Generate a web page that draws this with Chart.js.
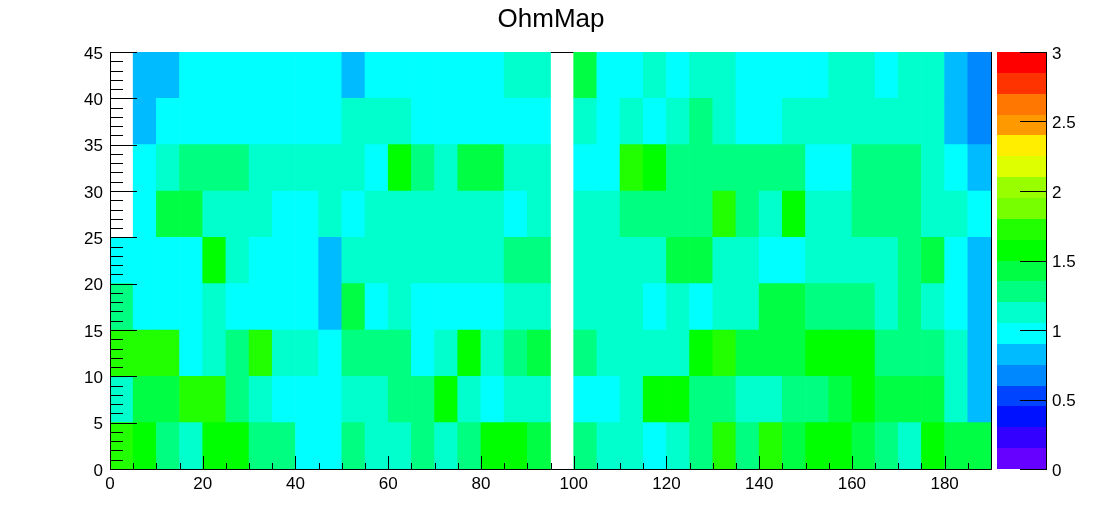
<!DOCTYPE html>
<html>
<head>
<meta charset="utf-8">
<title>OhmMap</title>
<script src="https://cdn.jsdelivr.net/npm/chart.js@4"></script>
<style>
  html, body { margin: 0; padding: 0; background: #fff; overflow: hidden; }
  canvas { display: block; }
</style>
</head>
<body>
<canvas id="ohmMap" width="1102" height="522"></canvas>
<script>
// column starts, 5 wide each, 0 to 185
const columns = [0, 5, 10, 15, 20, 25, 30, 35, 40, 45, 50, 55, 60, 65, 70, 75, 80, 85, 90, 95,
  100, 105, 110, 115, 120, 125, 130, 135, 140, 145, 150, 155, 160, 165, 170, 175, 180, 185];
const rowHeight = 5;

// ohm values per row, y = 0-5 first (null = empty bin)
const row0 = [1.73, 1.58, 1.28, 1.13, 1.58, 1.58, 1.28, 1.28, 0.98, 0.98, 1.28, 1.13, 1.13, 1.28, 1.13, 1.28, 1.58, 1.58, 1.43, null,
  1.28, 1.13, 1.13, 0.98, 1.13, 1.28, 1.73, 1.28, 1.73, 1.43, 1.58, 1.58, 1.43, 1.28, 1.13, 1.58, 1.43, 1.43];
const row1 = [1.13, 1.43, 1.43, 1.73, 1.73, 1.28, 1.13, 0.98, 0.98, 0.98, 1.13, 1.13, 1.28, 1.28, 1.58, 1.13, 0.98, 1.13, 1.13, null,
  0.98, 0.98, 1.13, 1.58, 1.58, 1.28, 1.28, 1.13, 1.13, 1.28, 1.28, 1.43, 1.58, 1.43, 1.43, 1.43, 1.13, 0.83];
const row2 = [1.73, 1.73, 1.73, 0.98, 1.13, 1.28, 1.73, 1.13, 1.13, 0.98, 1.28, 1.28, 1.28, 0.98, 1.13, 1.58, 1.13, 1.28, 1.43, null,
  1.28, 1.13, 1.13, 1.13, 1.13, 1.58, 1.73, 1.43, 1.43, 1.43, 1.58, 1.58, 1.58, 1.28, 1.28, 1.28, 1.13, 0.83];
const row3 = [1.28, 0.98, 0.98, 0.98, 1.13, 0.98, 0.98, 0.98, 0.98, 0.83, 1.43, 0.98, 1.13, 0.98, 0.98, 0.98, 0.98, 1.13, 1.13, null,
  1.13, 1.13, 1.13, 0.98, 1.13, 0.98, 1.13, 1.13, 1.43, 1.43, 1.28, 1.28, 1.28, 1.13, 1.28, 1.13, 0.98, 0.83];
const row4 = [0.98, 0.98, 0.98, 0.98, 1.58, 1.13, 0.98, 0.98, 0.98, 0.83, 1.13, 1.13, 1.13, 1.13, 1.13, 1.13, 1.13, 1.28, 1.28, null,
  1.13, 1.13, 1.13, 1.13, 1.43, 1.43, 1.13, 1.13, 0.98, 0.98, 1.13, 1.13, 1.13, 1.13, 1.28, 1.43, 0.98, 0.83];
const row5 = [null, 0.98, 1.43, 1.43, 1.13, 1.13, 1.13, 0.98, 0.98, 1.13, 0.98, 1.13, 1.13, 1.13, 1.13, 1.13, 1.13, 0.98, 1.13, null,
  1.13, 1.13, 1.28, 1.28, 1.28, 1.28, 1.73, 1.28, 1.13, 1.58, 1.13, 1.13, 1.28, 1.28, 1.28, 1.13, 1.13, 0.98];
const row6 = [null, 0.98, 1.13, 1.28, 1.28, 1.28, 1.13, 1.13, 1.13, 1.13, 1.13, 0.98, 1.58, 1.28, 1.13, 1.43, 1.43, 1.13, 1.13, null,
  0.98, 0.98, 1.73, 1.58, 1.28, 1.28, 1.28, 1.28, 1.28, 1.28, 0.98, 0.98, 1.28, 1.28, 1.28, 1.13, 0.98, 0.83];
const row7 = [null, 0.83, 0.98, 0.98, 0.98, 0.98, 0.98, 0.98, 0.98, 0.98, 1.13, 1.13, 1.13, 0.98, 0.98, 0.98, 0.98, 0.98, 0.98, null,
  1.13, 0.98, 1.13, 0.98, 1.13, 1.28, 1.13, 0.98, 0.98, 1.13, 1.13, 1.13, 1.13, 1.13, 1.13, 1.13, 0.83, 0.68];
const row8 = [null, 0.83, 0.83, 0.98, 0.98, 0.98, 0.98, 0.98, 0.98, 0.98, 0.83, 0.98, 0.98, 0.98, 0.98, 0.98, 0.98, 1.13, 1.13, null,
  1.43, 0.98, 0.98, 1.13, 0.98, 1.13, 1.13, 0.98, 0.98, 0.98, 0.98, 1.13, 1.13, 0.98, 1.13, 1.13, 0.83, 0.68];
const rows = [row0, row1, row2, row3, row4, row5, row6, row7, row8];

// 20 contours from 0 to 3, bottom to top
const paletteStep = 0.15;
const paletteColors = ['#6600ff', '#3300ff', '#0011ff', '#0044ff', '#0088ff', '#00bbff', '#00ffff', '#00ffcc', '#00ff80', '#00ff44',
  '#00ff00', '#22ff00', '#77ff00', '#99ff00', '#ddff00', '#ffee00', '#ff9900', '#ff7700', '#ff3300', '#ff0000'];

const fontFamily = '"Liberation Sans", Arial, sans-serif';
const tickFont = { family: fontFamily, size: 17 };

function colorFor(v) {
  return v === null ? 'rgba(0,0,0,0)' : paletteColors[Math.floor(v / paletteStep)];
}

function hLine(ctx, x1, x2, y) {
  const py = Math.round(y) + 0.5;
  ctx.beginPath();
  ctx.moveTo(x1, py);
  ctx.lineTo(x2, py);
  ctx.stroke();
}

function vLine(ctx, x, y1, y2) {
  const px = Math.round(x) + 0.5;
  ctx.beginPath();
  ctx.moveTo(px, y1);
  ctx.lineTo(px, y2);
  ctx.stroke();
}

// fixed axis box, tick padding must not push the plot area in
function fixBox(width, height) {
  return s => {
    if (width) s.width = width;
    if (height) s.height = height;
    s.paddingTop = 0;
    s.paddingBottom = 0;
    s.paddingLeft = 0;
    s.paddingRight = 0;
  };
}

// ROOT style frame and inward ticks, plus the colour bar
const rootFrame = {
  id: 'rootFrame',
  beforeDatasetsDraw(chart) {
    const { ctx, chartArea: a } = chart;
    ctx.save();
    ctx.strokeStyle = '#000';
    ctx.lineWidth = 1;
    hLine(ctx, a.left, a.right + 1, a.top);
    vLine(ctx, a.right, a.top, a.bottom + 1);
    ctx.restore();
  },
  afterDatasetsDraw(chart) {
    const { ctx, chartArea: a, scales } = chart;
    ctx.save();
    ctx.strokeStyle = '#000';
    ctx.lineWidth = 1;

    hLine(ctx, a.left, a.right + 1, a.bottom);
    vLine(ctx, a.left, a.top, a.bottom + 1);

    for (let v = 0; v <= 190; v += 5) {
      const len = v % 20 === 0 ? 13 : 6;
      vLine(ctx, scales.xt.getPixelForValue(v), a.bottom - len, a.bottom);
    }
    for (let v = 0; v <= 45; v += 1) {
      const len = v % 5 === 0 ? 27 : 13;
      hLine(ctx, a.left, a.left + len, scales.y.getPixelForValue(v));
    }

    // colour bar
    const barLeft = 997, barRight = 1046;
    paletteColors.forEach((c, i) => {
      const top = scales.z.getPixelForValue((i + 1) * paletteStep);
      const bottom = scales.z.getPixelForValue(i * paletteStep);
      ctx.fillStyle = c;
      ctx.fillRect(barLeft, Math.round(top), barRight - barLeft, Math.round(bottom) - Math.round(top));
    });
    vLine(ctx, barRight, a.top, a.bottom + 1);
    for (let v = 0; v <= 3; v += 0.5) {
      hLine(ctx, barRight - 26, barRight + 1, scales.z.getPixelForValue(v));
    }
    ctx.restore();
  }
};

const datasets = rows.map((values, i) => ({
  label: 'y ' + i * rowHeight + '-' + (i + 1) * rowHeight,
  data: values.map(v => (v === null ? null : rowHeight)),
  ohms: values,
  backgroundColor: values.map(colorFor),
  borderWidth: 0,
  barPercentage: 1,
  categoryPercentage: 1,
  xAxisID: 'x',
  yAxisID: 'y'
}));

new Chart(document.getElementById('ohmMap'), {
  type: 'bar',
  data: { labels: columns, datasets: datasets },
  plugins: [rootFrame],
  options: {
    responsive: false,
    animation: false,
    layout: { padding: 0 },
    plugins: {
      legend: { display: false },
      tooltip: {
        callbacks: {
          label: item => 'Ohm: ' + item.dataset.ohms[item.dataIndex]
        }
      },
      title: {
        display: true,
        text: 'OhmMap',
        color: '#000',
        font: { family: fontFamily, size: 26, weight: 'normal' },
        padding: { top: 4.4, bottom: 16.4 }
      }
    },
    scales: {
      x: { display: false, stacked: true },
      xt: {
        type: 'linear',
        axis: 'x',
        position: 'bottom',
        offset: false,
        min: 0,
        max: 190,
        grid: { display: false, drawTicks: false },
        border: { display: false },
        ticks: { stepSize: 20, color: '#000', font: tickFont, padding: 5, maxRotation: 0 },
        afterBuildTicks: s => { s.ticks = s.ticks.filter(t => t.value % 20 === 0); },
        afterFit: fixBox(0, 53)
      },
      y: {
        type: 'linear',
        position: 'left',
        stacked: true,
        min: 0,
        max: 45,
        grid: { display: false, drawTicks: false },
        border: { display: false },
        ticks: { stepSize: 5, color: '#000', font: tickFont, padding: 7, labelOffset: 2 },
        afterFit: fixBox(110, 0)
      },
      z: {
        type: 'linear',
        position: 'right',
        min: 0,
        max: 3,
        grid: { display: false, drawTicks: false },
        border: { display: false },
        ticks: { stepSize: 0.5, color: '#000', font: tickFont, padding: 61, labelOffset: 2, callback: v => String(v) },
        afterFit: fixBox(111, 0)
      }
    }
  }
});
</script>
</body>
</html>
